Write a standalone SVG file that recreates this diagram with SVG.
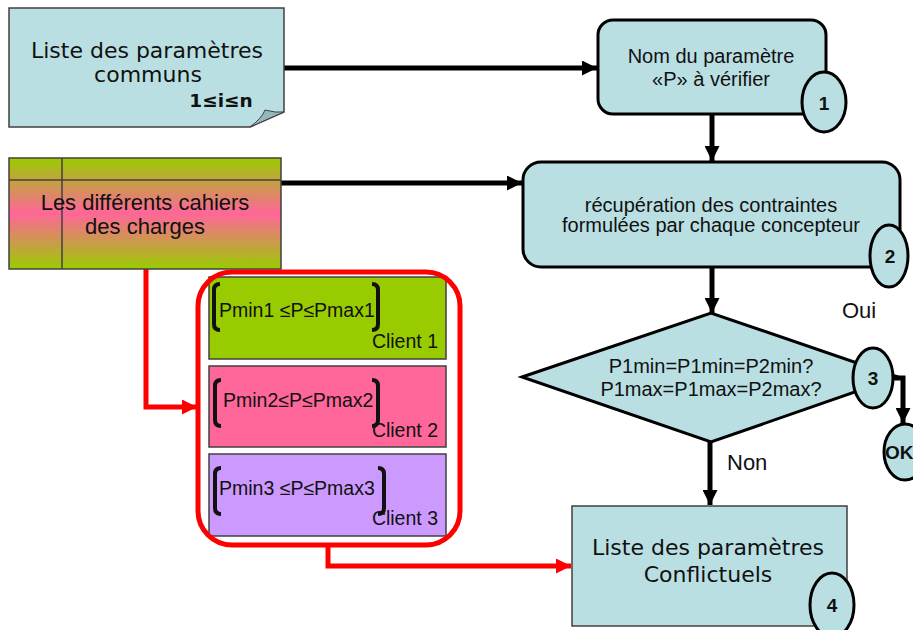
<svg xmlns="http://www.w3.org/2000/svg" width="913" height="630" viewBox="0 0 913 630">
<style>
.lb{fill:#b9dfe3}
.thin{stroke:#404040;stroke-width:1.5}
.thick{stroke:#000;stroke-width:3}
.ar{font-family:"Liberation Sans",Arial,sans-serif;font-size:20px;fill:#111;text-anchor:middle}
.ar22{font-family:"Liberation Sans",Arial,sans-serif;font-size:22px;fill:#111;text-anchor:middle}
.vd{font-family:"DejaVu Sans",Verdana,sans-serif;font-size:22px;fill:#111;text-anchor:middle}
.num{font-family:"Liberation Sans",Arial,sans-serif;font-size:19px;font-weight:bold;fill:#111;text-anchor:middle}
.ok{font-family:"Liberation Sans",Arial,sans-serif;font-size:19px;font-weight:bold;fill:#111}
.lbl{font-family:"Liberation Sans",Arial,sans-serif;font-size:22px;fill:#111}
.cl{font-family:"Liberation Sans",Arial,sans-serif;font-size:19.5px;fill:#111}
.cle{font-family:"Liberation Sans",Arial,sans-serif;font-size:19.5px;fill:#111;text-anchor:end}
.br{fill:none;stroke:#111;stroke-width:4}
.blk{fill:none;stroke:#000;stroke-width:5}
.red{fill:none;stroke:#ff0000;stroke-width:5}
</style>
<defs>
<linearGradient id="g2" x1="0" y1="0" x2="0" y2="1">
<stop offset="0" stop-color="#99cc00"/>
<stop offset="0.5" stop-color="#ff6699"/>
<stop offset="1" stop-color="#99cc00"/>
</linearGradient>
<marker id="ab" viewBox="0 0 10 10" refX="10" refY="5" markerWidth="3" markerHeight="3" orient="auto" markerUnits="strokeWidth">
<path d="M0,0 L10,5 L0,10 Z" fill="#000"/>
</marker>
<marker id="ar" viewBox="0 0 10 10" refX="10" refY="5" markerWidth="3" markerHeight="3" orient="auto" markerUnits="strokeWidth">
<path d="M0,0 L10,5 L0,10 Z" fill="#ff0000"/>
</marker>
</defs>

<g id="connectors">
<path class="blk" d="M284,68 H597" marker-end="url(#ab)"/>
<path class="blk" d="M281,183 H522" marker-end="url(#ab)"/>
<path class="blk" d="M712,114 V161" marker-end="url(#ab)"/>
<path class="blk" d="M712,267 V313" marker-end="url(#ab)"/>
<path class="blk" d="M710,442 V505" marker-end="url(#ab)"/>
<path class="blk" d="M892,378 H903 V423" marker-end="url(#ab)"/>
<path class="red" d="M146,269 V407 H197" marker-end="url(#ar)"/>
<path class="red" d="M328,545 V566 H571" marker-end="url(#ar)"/>
</g>

<g id="n-communs">
<path class="lb thin" d="M9,8 H284 V112 L250,127 H9 Z"/>
<path d="M250,127 Q262,118 265,110 Q276,113 284,112 Z" fill="#93b7ba" stroke="#404040" stroke-width="1"/>
<text class="vd" x="147" y="58">Liste des paramètres</text>
<text class="vd" x="148" y="82">communs</text>
<text x="221" y="107" font-family="DejaVu Sans,Verdana,sans-serif" font-size="18.5" font-weight="bold" fill="#111" text-anchor="middle">1≤i≤n</text>
</g>

<g id="n-cahiers">
<rect x="9" y="158" width="272" height="111" fill="url(#g2)" class="thin"/>
<line x1="9" y1="180" x2="281" y2="180" class="thin"/>
<line x1="62" y1="158" x2="62" y2="269" class="thin"/>
<text class="ar22" x="145" y="210">Les différents cahiers</text>
<text class="ar22" x="145" y="234">des charges</text>
</g>

<g id="n-clients">
<rect x="209" y="277" width="237" height="82" fill="#99cc00" class="thin"/>
<rect x="209" y="366" width="237" height="81" fill="#ff6699" class="thin"/>
<rect x="209" y="454" width="237" height="82" fill="#cc99ff" class="thin"/>
<path class="br" d="M220,284 Q214,284 214,290 V324 Q214,330 220,330"/>
<path class="br" d="M372,284 Q378,284 378,290 V324 Q378,330 372,330"/>
<text class="cl" x="219" y="317">Pmin1 ≤P≤Pmax1</text>
<text class="cle" x="438" y="348">Client 1</text>
<path class="br" d="M221,380 Q215,380 215,386 V420 Q215,426 221,426"/>
<path class="br" d="M372,380 Q378,380 378,386 V420 Q378,426 372,426"/>
<text class="cl" x="223" y="407">Pmin2≤P≤Pmax2</text>
<text class="cle" x="438" y="437">Client 2</text>
<path class="br" d="M221,468 Q215,468 215,474 V508 Q215,514 221,514"/>
<path class="br" d="M378,468 Q384,468 384,474 V508 Q384,514 378,514"/>
<text class="cl" x="219" y="495">Pmin3 ≤P≤Pmax3</text>
<text class="cle" x="438" y="525">Client 3</text>
<rect x="198" y="272" width="262" height="273" rx="34" class="red"/>
</g>

<g id="n1">
<rect x="598" y="20" width="228" height="94" rx="15" class="lb thick"/>
<text class="ar" x="711" y="63">Nom du paramètre</text>
<text class="ar" x="711" y="86">«P» à vérifier</text>
<ellipse cx="824" cy="102" rx="22" ry="30" class="lb thick"/>
<text class="num" x="824" y="110">1</text>
</g>

<g id="n2">
<rect x="523" y="162" width="377" height="105" rx="18" class="lb thick"/>
<text class="ar" x="711" y="212">récupération des contraintes</text>
<text class="ar" x="711" y="232">formulées par chaque concepteur</text>
<ellipse cx="889" cy="256" rx="19" ry="31" class="lb thick"/>
<text class="num" x="890" y="263">2</text>
</g>

<g id="n3">
<path d="M522,377 L711,313 L898,377 L711,442 Z" class="lb thick"/>
<text class="ar" x="711" y="373">P1min=P1min=P2min?</text>
<text class="ar" x="711" y="396">P1max=P1max=P2max?</text>
<ellipse cx="873" cy="378" rx="20" ry="30" class="lb thick"/>
<text class="num" x="873" y="385">3</text>
<text class="lbl" x="842" y="318">Oui</text>
<text class="lbl" x="727" y="470">Non</text>
</g>

<g id="n-ok">
<ellipse cx="905" cy="452" rx="21" ry="28" class="lb thick"/>
<text class="ok" x="885" y="459">OK</text>
</g>

<g id="n4">
<rect x="572" y="506" width="275" height="120" class="lb thin"/>
<text class="vd" x="708" y="555">Liste des paramètres</text>
<text class="vd" x="708" y="582">Conflictuels</text>
<ellipse cx="832" cy="605" rx="22" ry="32" class="lb thick"/>
<text class="num" x="832" y="612">4</text>
</g>
</svg>
